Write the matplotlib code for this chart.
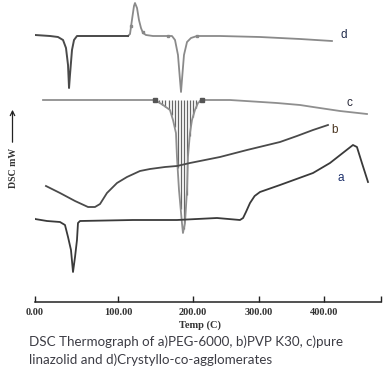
import numpy as np
import matplotlib
matplotlib.use("Agg")
import matplotlib.pyplot as plt

# ---------------- data (temperature axis units, heat-flow arbitrary units) ----------------
# d) Crystallo-co-agglomerates (first, darker part)
d1_T = [-9.7, 0, 20.8, 31.8, 38.8, 42.9, 45.7, 47.1, 48.4, 51.2, 54.0, 58.1, 128.7]
d1_Y = [270, 267, 266, 265, 262, 254, 237, 214, 227, 252, 262, 266, 266]
# d) continuation (lighter part: exotherm + drug melting)
d2_T = [128.7, 131.5, 134.2, 137.0, 138.4, 141.2, 143.9, 146.7, 149.5, 153.6, 163.3,
        189.6, 193.8, 197.9, 200.7, 202.1, 203.4, 206.2, 210.4, 215.9, 224.2,
        256.0, 311.4, 366.8, 411.0]
d2_Y = [266, 268, 282, 296, 299, 294, 282, 274, 269, 267, 266,
        266, 262, 247, 222, 210, 222, 247, 260, 264, 266,
        266, 265, 263, 261]
d_marks_T = [133.0, 149.0, 184.0, 224.2]

# c) pure linezolid
c_T = [11.1, 90.0, 131.5, 166.1, 177.2, 186.8, 191.0, 195.1, 196.5, 199.3, 203.4, 204.8,
       207.6, 210.4, 211.7, 214.5, 217.3, 221.4, 225.6, 231.1, 269.9, 334.9, 366.8,
       384.8, 422.1, 459.5]
c_Y = [202, 202, 202, 202, 197, 192, 182, 169, 145, 112, 79, 69,
       79, 112, 145, 169, 182, 192, 199, 202, 202, 199, 197,
       195, 191, 188]
c_marks_T = [166.1, 231.1]

# b) PVP K30
b_T = [15.2, 34.6, 55.4, 73.4, 83.0, 90.0, 99.6, 113.5, 127.3, 145.3, 159.2, 179.9,
       196.5, 214.5, 256.0, 293.4, 339.1, 362.6, 384.8, 405.5]
b_Y = [116, 109, 101, 95, 95, 98, 109, 119, 125, 131, 133, 135,
       136, 139, 145, 152, 160, 166, 172, 177]

# a) PEG-6000
a_T = [-2.8, 0, 16.6, 34.6, 41.5, 45.7, 49.8, 52.6, 55.4, 58.1, 59.5, 62.3, 135.6,
       196.5, 251.9, 283.7, 288.0, 292.0, 297.6, 304.0, 311.4, 339.1, 384.8, 408.3,
       440.1, 445.6, 452.5, 460.9]
a_Y = [85, 83, 81, 80, 77, 65, 52, 30, 45, 62, 79, 81, 82,
       82, 84, 82, 84, 90, 99, 106, 110, 117, 129, 139,
       157, 155, 139, 120]

tick_pos = [0, 114.9, 218.7, 310.0, 400.0, 478.9]
tick_labels = ["0.00", "100.00", "200.00", "300.00", "400.00", ""]

curve_labels = ["d", "c", "b", "a"]
label_T = [423.5, 431.6, 409.6, 419.3]
label_Y = [267, 199, 172, 124]
label_colors = ["#1f2a4a", "#2a2a3a", "#4a3520", "#1c2f6b"]

caption = ["DSC Thermograph of a)PEG-6000, b)PVP K30, c)pure",
           "linazolid and d)Crystyllo-co-agglomerates"]

# ---------------- figure ----------------
W, H = 391, 380
fig = plt.figure(figsize=(W / 100, H / 100), dpi=100)
ax = fig.add_axes([35 / W, (H - 302) / H, (381 - 35) / W, 302 / H])
ax.set_xlim(0, 478.9)
ax.set_ylim(0, 302)

for s in ["top", "right", "left"]:
    ax.spines[s].set_visible(False)
ax.spines["bottom"].set_linewidth(1.1)
ax.spines["bottom"].set_color("#222222")
ax.set_yticks([])
ax.set_xticks(tick_pos)
ax.set_xticklabels(tick_labels, fontfamily="Liberation Serif", fontsize=7.5,
                   fontweight="bold", color="#333333")
ax.tick_params(axis="x", direction="in", length=4, width=1, color="#222222", pad=4)
ax.patch.set_alpha(0)

# hatched area of linezolid endotherm
hx = np.arange(168, 230, 4.2)
hy = np.interp(hx, c_T, c_Y)
ax.vlines(hx, hy, 202, colors="#666666", lw=0.9)

ax.plot(c_T, c_Y, color="#8f8f8f", lw=1.3)
ax.plot(c_marks_T, np.interp(c_marks_T, c_T, c_Y), ls="none", marker="s",
        ms=2.4, color="#555555")

ax.plot(d2_T, d2_Y, color="#8a8a8a", lw=1.3)
ax.plot(d1_T, d1_Y, color="#4a4a4a", lw=1.4)
ax.plot(d_marks_T, np.interp(d_marks_T, d2_T, d2_Y), ls="none", marker="s",
        ms=1.6, color="#888888")

ax.plot(b_T, b_Y, color="#4a4a4a", lw=1.3)
ax.plot(a_T, a_Y, color="#3a3a3a", lw=1.3)

for t, x, y, c in zip(curve_labels, label_T, label_Y, label_colors):
    ax.text(x, y, t, fontsize=8.5, color=c, fontfamily="Liberation Sans",
            ha="left", va="center")

fig.text(200 / W, (H - 325) / H, "Temp (C)", fontfamily="Liberation Serif",
         fontsize=7.5, fontweight="bold", color="#333333", ha="center", va="center")

# y label with arrow
fig.text(13 / W, (H - 168) / H, "DSC mW", fontfamily="Liberation Serif", fontsize=7,
         fontweight="bold", color="#333333", rotation=90, ha="center", va="center")
fig.add_artist(matplotlib.patches.FancyArrowPatch(
    (12.5 / W, (H - 145) / H), (12.5 / W, (H - 107) / H), transform=fig.transFigure,
    arrowstyle="->", mutation_scale=8, lw=0.9, color="#222222"))

fig.text(29 / W, (H - 342) / H, caption[0], fontfamily="Lato", fontsize=9.6,
         color="#3c3c44", ha="left", va="center")
fig.text(29 / W, (H - 360) / H, caption[1], fontfamily="Lato", fontsize=9.6,
         color="#3c3c44", ha="left", va="center")

fig.savefig("out.png", dpi=100)
